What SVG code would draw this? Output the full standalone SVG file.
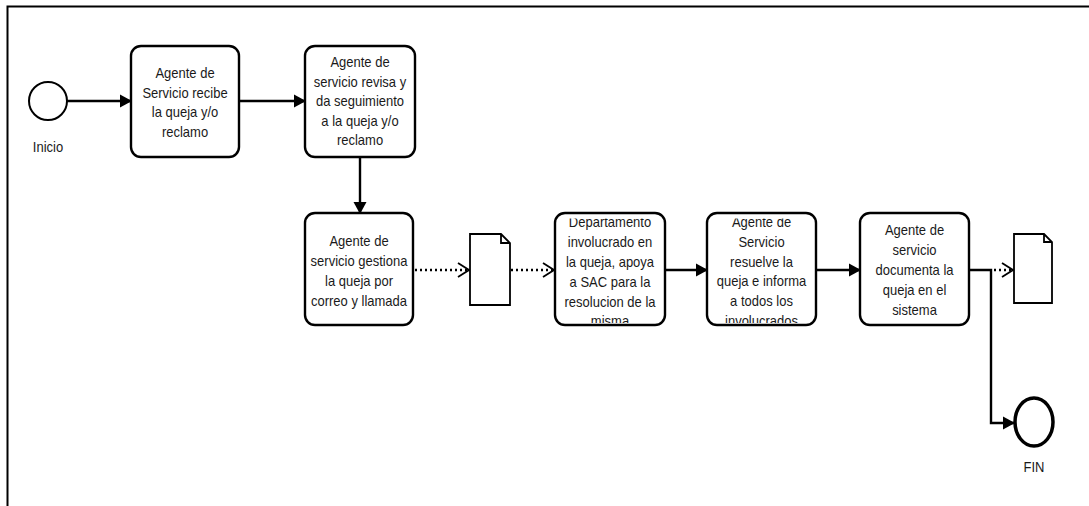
<svg xmlns="http://www.w3.org/2000/svg" width="1089" height="506" viewBox="0 0 1089 506">
<style>
.box{fill:#fff;stroke:#000;stroke-width:2.4}
.t{font-family:"Liberation Sans",Arial,sans-serif;font-size:13px;fill:#1a1a1a;text-anchor:middle}
.c{stroke:#000;stroke-width:2.4;fill:none}
.d{stroke:#000;stroke-width:2.4;fill:none;stroke-dasharray:2 3}
.doc{fill:#fff;stroke:#000;stroke-width:1.8}
</style>
<defs>
<marker id="ah" markerWidth="12" markerHeight="14" refX="11" refY="7" orient="auto" markerUnits="userSpaceOnUse">
<path d="M0,0.5 L12,7 L0,13.5 z" fill="#000"/>
</marker>
<marker id="oh" markerWidth="13" markerHeight="16" refX="12" refY="8" orient="auto" markerUnits="userSpaceOnUse">
<path d="M1,1 L12,8 L1,15" fill="none" stroke="#000" stroke-width="1.8"/>
</marker>
<clipPath id="cl4"><rect x="555" y="218.5" width="110" height="104.5" rx="8"/></clipPath>
<clipPath id="cl5"><rect x="707" y="218.5" width="109" height="104.5" rx="8"/></clipPath>
</defs>
<path d="M7.5,506 L7.5,6.5 L1089,6.5" fill="none" stroke="#000" stroke-width="2"/>
<g id="connectors">
<line class="c" x1="67" y1="101" x2="131" y2="101" marker-end="url(#ah)"/>
<line class="c" x1="239" y1="101" x2="305" y2="101" marker-end="url(#ah)"/>
<line class="c" x1="360" y1="157" x2="360" y2="213" marker-end="url(#ah)"/>
<line class="d" x1="415" y1="270" x2="469" y2="270" marker-end="url(#oh)"/>
<line class="d" x1="511" y1="270" x2="554" y2="270" marker-end="url(#oh)"/>
<line class="c" x1="665" y1="270" x2="707" y2="270" marker-end="url(#ah)"/>
<line class="c" x1="816" y1="270" x2="860" y2="270" marker-end="url(#ah)"/>
<polyline class="c" points="969,270 991,270 991,423 1014,423" marker-end="url(#ah)"/>
<line class="d" x1="994" y1="270" x2="1013" y2="270" marker-end="url(#oh)"/>
</g>
<g id="inicio">
<circle cx="48" cy="101" r="19" fill="#fff" stroke="#000" stroke-width="2"/>
<text class="t" transform="translate(48 152) scale(1 1.15)" font-size="12">Inicio</text>
</g>
<g id="n1">
<rect class="box" x="131" y="46" width="108" height="111" rx="10"/>
<text class="t" transform="translate(185 78) scale(1 1.15)">Agente de</text>
<text class="t" transform="translate(185 97.5) scale(1 1.15)">Servicio recibe</text>
<text class="t" transform="translate(185 117) scale(1 1.15)">la queja y/o</text>
<text class="t" transform="translate(185 136.5) scale(1 1.15)">reclamo</text>
</g>
<g id="n2">
<rect class="box" x="305" y="46" width="110" height="111" rx="10"/>
<text class="t" transform="translate(360 67) scale(1 1.15)">Agente de</text>
<text class="t" transform="translate(360 86.5) scale(1 1.15)">servicio revisa y</text>
<text class="t" transform="translate(360 106) scale(1 1.15)">da seguimiento</text>
<text class="t" transform="translate(360 125.5) scale(1 1.15)">a la queja y/o</text>
<text class="t" transform="translate(360 145) scale(1 1.15)">reclamo</text>
</g>
<g id="n3">
<rect class="box" x="305" y="213" width="108" height="112" rx="10"/>
<text class="t" transform="translate(359 246) scale(1 1.15)">Agente de</text>
<text class="t" transform="translate(359 266) scale(1 1.15)">servicio gestiona</text>
<text class="t" transform="translate(359 286) scale(1 1.15)">la queja por</text>
<text class="t" transform="translate(359 305.5) scale(1 1.15)">correo y llamada</text>
</g>
<g id="doc1">
<path class="doc" d="M470,234 L501,234 L510,243 L510,305 L470,305 Z M501,234 L501,243 L510,243"/>
</g>
<g id="n4">
<rect class="box" x="555" y="213" width="110" height="112" rx="10"/>
<g clip-path="url(#cl4)">
<text class="t" transform="translate(610 227) scale(1 1.15)">Departamento</text>
<text class="t" transform="translate(610 247) scale(1 1.15)">involucrado en</text>
<text class="t" transform="translate(610 267) scale(1 1.15)">la queja, apoya</text>
<text class="t" transform="translate(610 287) scale(1 1.15)">a SAC para la</text>
<text class="t" transform="translate(610 306.5) scale(1 1.15)">resolucion de la</text>
<text class="t" transform="translate(610 326) scale(1 1.15)">misma</text>
</g>
</g>
<g id="n5">
<rect class="box" x="707" y="213" width="109" height="112" rx="10"/>
<g clip-path="url(#cl5)">
<text class="t" transform="translate(761.5 227) scale(1 1.15)">Agente de</text>
<text class="t" transform="translate(761.5 247) scale(1 1.15)">Servicio</text>
<text class="t" transform="translate(761.5 266.5) scale(1 1.15)">resuelve la</text>
<text class="t" transform="translate(761.5 286) scale(1 1.15)">queja e informa</text>
<text class="t" transform="translate(761.5 306) scale(1 1.15)">a todos los</text>
<text class="t" transform="translate(761.5 326) scale(1 1.15)">involucrados</text>
</g>
</g>
<g id="n6">
<rect class="box" x="860" y="213" width="109" height="112" rx="10"/>
<text class="t" transform="translate(914.5 235) scale(1 1.15)">Agente de</text>
<text class="t" transform="translate(914.5 255) scale(1 1.15)">servicio</text>
<text class="t" transform="translate(914.5 275) scale(1 1.15)">documenta la</text>
<text class="t" transform="translate(914.5 295) scale(1 1.15)">queja en el</text>
<text class="t" transform="translate(914.5 315) scale(1 1.15)">sistema</text>
</g>
<g id="doc2">
<path class="doc" d="M1014,234 L1044,234 L1052,242 L1052,303 L1014,303 Z M1044,234 L1044,242 L1052,242"/>
</g>
<g id="fin">
<ellipse cx="1034" cy="422" rx="19" ry="24" fill="#fff" stroke="#000" stroke-width="3.5"/>
<text class="t" transform="translate(1034 472) scale(1 1.15)" font-size="12">FIN</text>
</g>
</svg>
